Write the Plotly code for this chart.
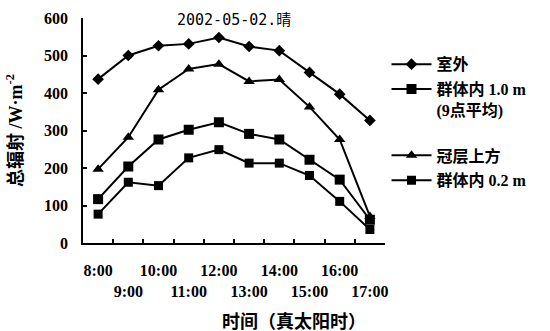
import plotly.graph_objects as go

time_labels = ["8:00", "9:00", "10:00", "11:00", "12:00", "13:00", "14:00", "15:00", "16:00", "17:00"]
outdoor = [437, 500, 526, 531, 548, 524, 513, 455, 397, 327]
inside_1m = [117, 204, 276, 302, 322, 291, 276, 222, 169, 62]
canopy_top = [197, 282, 409, 464, 477, 431, 436, 363, 276, 71]
inside_02m = [77, 162, 153, 227, 249, 213, 213, 180, 111, 36]

series_names = ["室外", "群体内 1.0 m<br>(9点平均)<br> ", "冠层上方", "群体内 0.2 m"]

# two-row tick labels (alternating)
x_cats = [t if i % 2 == 0 else " <br>" + t for i, t in enumerate(time_labels)]

FONT = "Liberation Serif, Noto Sans CJK SC, serif"

fig = go.Figure()
styles = [
    (outdoor, "diamond", 9),
    (inside_1m, "square", 10),
    (canopy_top, "triangle-up", 10),
    (inside_02m, "square", 9),
]
for i, ((vals, sym, size), name) in enumerate(zip(styles, series_names)):
    fig.add_trace(go.Scatter(
        x=x_cats, y=vals, name=name, mode="lines+markers",
        line=dict(color="black", width=2),
        marker=dict(symbol=sym, size=size, color="black"),
        legendgroup=f"g{i}",
    ))

fig.update_layout(
    width=550, height=331,
    margin=dict(l=83, r=165, t=18, b=88),
    paper_bgcolor="white", plot_bgcolor="white",
    font=dict(family=FONT, color="black", size=16),
    showlegend=True,
    legend=dict(
        x=1.005, y=0.87, xanchor="left", yanchor="top",
        font=dict(family=FONT, size=16, weight="bold"),
        traceorder="grouped", tracegroupgap=1, valign="top",
        itemwidth=40, bgcolor="rgba(0,0,0,0)",
    ),
)
fig.add_annotation(text="2002-05-02.晴", xref="paper", yref="paper",
                   x=0.50, y=1.0, xanchor="center", yanchor="middle", yshift=-2,
                   showarrow=False,
                   font=dict(family="DejaVu Sans Mono, Noto Sans CJK SC", size=15, color="black"))
fig.add_annotation(text="时间（真太阳时）", xref="paper", yref="paper",
                   x=0.70, y=0, xanchor="center", yanchor="middle", yshift=-78,
                   showarrow=False,
                   font=dict(family=FONT, size=18, color="black", weight="bold"))

fig.update_xaxes(
    type="category", range=[-0.5, 9.5], tickson="boundaries", tickangle=0,
    automargin=False,
    ticks="inside", ticklen=4, tickwidth=1.5, tickcolor="black",
    showline=True, linecolor="black", linewidth=1.5, showgrid=False, zeroline=False,
    tickfont=dict(family=FONT, size=16, weight="bold"), ticklabelstandoff=12,
)
fig.update_yaxes(
    range=[0, 600], tickvals=[0, 100, 200, 300, 400, 500, 600],
    automargin=False,
    ticks="inside", ticklen=4, tickwidth=1.5, tickcolor="black",
    showline=True, linecolor="black", linewidth=1.5, showgrid=False, zeroline=False,
    tickfont=dict(family=FONT, size=16, weight="bold"), ticklabelstandoff=10,
    title=dict(text="总辐射 /W·m<sup>-2</sup>", standoff=17,
               font=dict(family=FONT, size=18, weight="bold")),
)

fig.write_html("out.html", config={"displayModeBar": False},
               post_script="document.body.style.margin='0';")
